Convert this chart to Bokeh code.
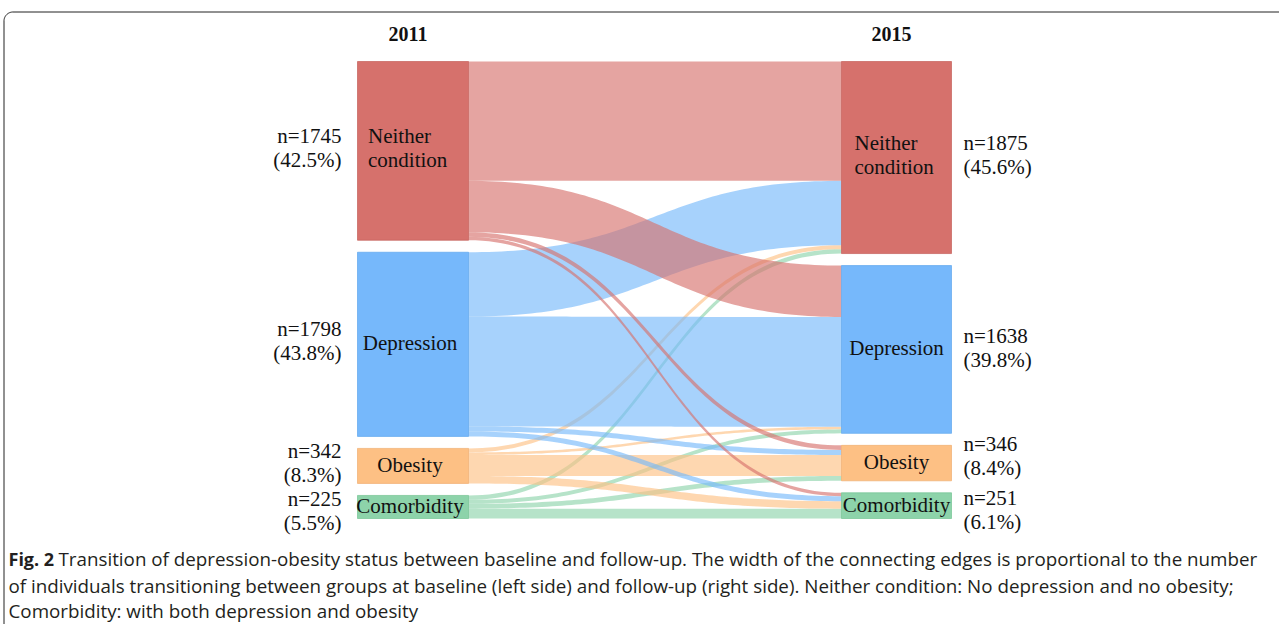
import numpy as np
from bokeh.plotting import figure
from bokeh.models import Range1d
from bokeh.core.properties import value
from bokeh.embed import file_html
from bokeh.resources import INLINE

# ---------------- data ----------------
categories = ["Neither condition", "Depression", "Obesity", "Comorbidity"]
node_names = [["Neither", "condition"], ["Depression"], ["Obesity"], ["Comorbidity"]]
years = ["2011", "2015"]
n_2011 = [1745, 1798, 342, 225]
n_2015 = [1875, 1638, 346, 251]
pct_2011 = ["(42.5%)", "(43.8%)", "(8.3%)", "(5.5%)"]
pct_2015 = ["(45.6%)", "(39.8%)", "(8.4%)", "(6.1%)"]
# transitions 2011 -> 2015 (targets: Neither, Depression, Obesity, Comorbidity)
from_neither = [1165, 502, 45, 33]
from_depression = [628, 1072, 49, 49]
from_obesity = [39, 25, 205, 73]
from_comorbidity = [43, 39, 47, 96]
flows = [from_neither, from_depression, from_obesity, from_comorbidity]

caption_bold = "Fig. 2"
caption_lines = [
    "Transition of depression-obesity status between baseline and follow-up. The width of the connecting edges is proportional to the number",
    "of individuals transitioning between groups at baseline (left side) and follow-up (right side). Neither condition: No depression and no obesity;",
    "Comorbidity: with both depression and obesity",
]

# ---------------- style / layout ----------------
node_colors = ["#D6716C", "#76B8FB", "#FDC084", "#8DD3AA"]
edge_colors = ["#C45F5A", "#5FA6EC", "#F0AE70", "#74C393"]
LINK_ALPHA = 0.64
W, H = 1279, 624
TOP_PX, BOT_PX, GAP_PX = 61, 518, 12
L_X0, L_X1 = 357, 468
R_X0, R_X1 = 841, 951
SERIF = value("Liberation Serif")
SANS = value("Open Sans")

total = sum(n_2011)
k = (BOT_PX - TOP_PX - 3 * GAP_PX) / total      # px per person
gap = GAP_PX / k

p = figure(width=W, height=H, output_backend="svg", toolbar_location=None,
           x_range=Range1d(0, W),
           y_range=Range1d(start=(H - TOP_PX) / k, end=-TOP_PX / k),
           min_border=0, outline_line_color=None, background_fill_color="white",
           border_fill_color="white")
p.extra_y_ranges = {"px": Range1d(start=H, end=0)}
p.xaxis.visible = False
p.yaxis.visible = False
p.grid.visible = False


def tops(vals):
    out, acc = [], 0.0
    for v in vals:
        out.append(acc)
        acc += v + gap
    return out


left_top = tops(n_2011)
right_top = tops(n_2015)

# ---------------- links ----------------
t = np.linspace(0, 1, 80)
xm = (L_X1 + R_X0) / 2
bx = (1 - t) ** 3 * L_X1 + 3 * (1 - t) ** 2 * t * xm + 3 * (1 - t) * t ** 2 * xm + t ** 3 * R_X0
s = 3 * (1 - t) * t ** 2 + t ** 3   # blend weight for y


def curve(y0, y1):
    return y0 + (y1 - y0) * s


segs = {}
for i in range(4):
    acc = 0.0
    for j in range(4):
        segs[(i, j)] = [left_top[i] + acc]
        acc += flows[i][j]
for j in range(4):
    acc = 0.0
    for i in range(4):
        segs[(i, j)].append(right_top[j] + acc)
        acc += flows[i][j]

xs, ys, cols = [], [], []
for i in reversed(range(4)):
    for j in reversed(range(4)):
        v = flows[i][j]
        y0, y1 = segs[(i, j)]
        top = curve(y0, y1)
        bot = curve(y0 + v, y1 + v)
        xs.append(np.concatenate([bx, bx[::-1]]))
        ys.append(np.concatenate([top, bot[::-1]]))
        cols.append(node_colors[i])

p.patches(xs, ys, fill_color=cols, fill_alpha=LINK_ALPHA, line_color=None)

# ---------------- nodes ----------------
for (x0, x1, tp, vals) in [(L_X0, L_X1, left_top, n_2011), (R_X0, R_X1, right_top, n_2015)]:
    p.quad(left=x0, right=x1, top=tp, bottom=[a + b for a, b in zip(tp, vals)],
           fill_color=node_colors, line_color=edge_colors, line_width=1, line_alpha=0.7)

# ---------------- labels ----------------
txt = dict(text_font=SERIF, text_font_size="21px", text_color="#111111", text_baseline="middle")
left_c = [a + b / 2 for a, b in zip(left_top, n_2011)]
right_c = [a + b / 2 for a, b in zip(right_top, n_2015)]
left_nudge = [-3, -3, -3, 4]
right_nudge = [-3, -1, -7, 4]

p.text(x=[L_X0 - 16] * 4, y=left_c, text=[f"n={v}" for v in n_2011],
       y_offset=[d - 12 for d in left_nudge], text_align="right", **txt)
p.text(x=[L_X0 - 16] * 4, y=left_c, text=pct_2011,
       y_offset=[d + 12 for d in left_nudge], text_align="right", **txt)
p.text(x=[R_X1 + 12] * 4, y=right_c, text=[f"n={v}" for v in n_2015],
       y_offset=[d - 12 for d in right_nudge], text_align="left", **txt)
p.text(x=[R_X1 + 12] * 4, y=right_c, text=pct_2015,
       y_offset=[d + 12 for d in right_nudge], text_align="left", **txt)

# node names
for (x0, x1, centers, dx) in [(L_X0, L_X1, left_c, -3), (R_X0, R_X1, right_c, 0)]:
    cx = (x0 + x1) / 2
    for i, lines in enumerate(node_names):
        if len(lines) == 1:
            p.text(x=[cx], y=[centers[i]], text=lines, x_offset=dx, y_offset=-1,
                   text_align="center", **txt)
        else:
            p.text(x=[cx, cx], y=[centers[i], centers[i]], text=lines,
                   x_offset=dx - 42, y_offset=[-15, 9], text_align="left", **txt)

# years
p.text(x=[(L_X0 + L_X1) / 2, (R_X0 + R_X1) / 2], y=[33, 33], text=years,
       x_offset=-5, y_range_name="px", text_font=SERIF, text_font_size="20px",
       text_font_style="bold", text_color="#111111", text_align="center",
       text_baseline="middle")

# caption
cap = dict(text_font=SANS, text_color="#231F20",
           text_baseline="middle", text_align="left", y_range_name="px")
p.text(x=[8], y=[558], text=[caption_bold], text_font_style="bold",
       text_font_size="18px", **cap)
p.text(x=[58, 8, 8], y=[558, 585, 610], text=caption_lines,
       text_font_size="18.8px", **cap)

# frame (rounded corner, top + left)
r = 9
ang = np.linspace(np.pi, 1.5 * np.pi, 20)
fx = np.concatenate([[3.5], 3.5 + r + r * np.cos(ang), [W]])
fy = np.concatenate([[H], 11.5 + r + r * np.sin(ang), [11.5]])
p.line(fx, fy, y_range_name="px", line_color="#222222", line_width=1)

open("out.html", "w").write(file_html(p, INLINE))
